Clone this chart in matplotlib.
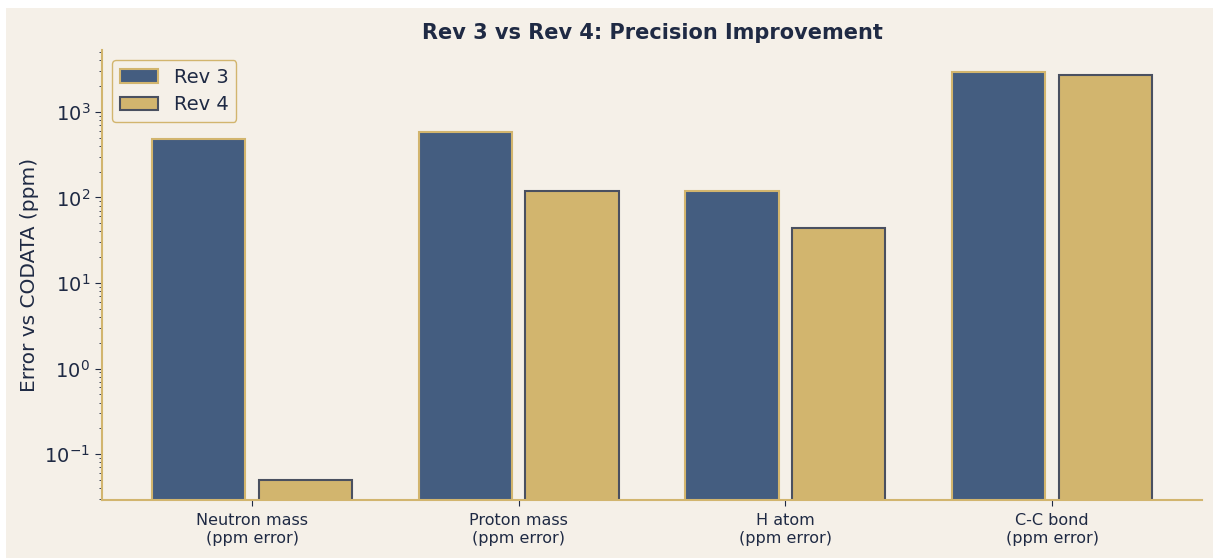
import numpy as np
import matplotlib.pyplot as plt
from matplotlib.patches import Rectangle

# data
categories = ["Neutron mass\n(ppm error)", "Proton mass\n(ppm error)",
              "H atom\n(ppm error)", "C-C bond\n(ppm error)"]
rev3 = [480, 580, 118, 2900]
rev4 = [0.05, 118, 44, 2720]

bg = "#f5f0e8"
navy = "#445d80"
gold = "#d2b56e"
dark = "#1f2a44"

fig = plt.figure(figsize=(12.13, 5.58), dpi=100, facecolor="white")
fig.patches.append(Rectangle((6 / 1213, 0), 1, 1 - 8 / 558, transform=fig.transFigure,
                             facecolor=bg, edgecolor="none", zorder=-10))
ax = fig.add_axes([102 / 1213, 1 - 500 / 558, 1100 / 1213, 450 / 558])
ax.set_facecolor(bg)

x = np.arange(len(categories))
w = 0.35
ax.bar(x - 0.2, rev3, w, color=navy, edgecolor=gold, linewidth=1.5, label="Rev 3")
ax.bar(x + 0.2, rev4, w, color=gold, edgecolor="#4a5060", linewidth=1.5, label="Rev 4")
ax.set_yscale("log")
ax.set_ylim(0.029, 5300)

ax.set_xticks(x)
ax.set_xticklabels(categories, fontsize=11.5, color="#2a3550")
ax.tick_params(axis="y", which="major", labelsize=14, colors=dark, length=5)
ax.tick_params(axis="y", which="minor", colors=dark, length=2.5)
ax.tick_params(axis="x", colors=dark, length=4.5, pad=5)
ax.set_ylabel("Error vs CODATA (ppm)", fontsize=14.5, color=dark, labelpad=4)
ax.set_title("Rev 3 vs Rev 4: Precision Improvement", fontsize=15, fontweight="bold",
             color=dark, pad=8)

for s in ["top", "right"]:
    ax.spines[s].set_visible(False)
for s in ["left", "bottom"]:
    ax.spines[s].set_color(gold)
    ax.spines[s].set_linewidth(1.5)

leg = ax.legend(loc="upper left", fontsize=14, facecolor=bg, edgecolor=gold,
                framealpha=1, labelspacing=0.45)
for t in leg.get_texts():
    t.set_color(dark)

fig.savefig("out.png", dpi=100, facecolor=fig.get_facecolor())
